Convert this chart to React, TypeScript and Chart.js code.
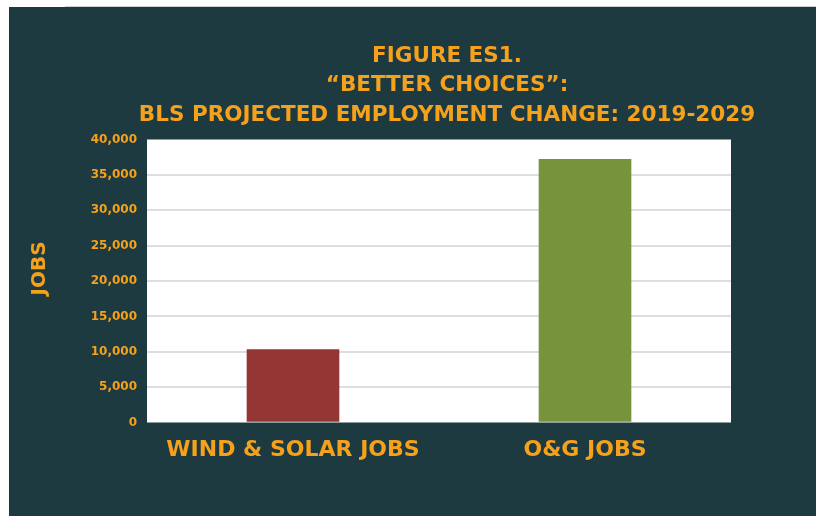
import React, { useEffect, useRef } from "react";
import { Chart, registerables } from "chart.js";

Chart.register(...registerables);

const categories = ["WIND & SOLAR JOBS", "O&G JOBS"];
const jobValues = [10300, 37200];
const barColors = ["#943634", "#77933c"];
const titleLines = ["FIGURE ES1.", "\u201CBETTER CHOICES\u201D:", "BLS PROJECTED EMPLOYMENT CHANGE: 2019-2029"];
const yAxisTitle = "JOBS";
const yMin = 0;
const yMax = 40000;
const yStep = 5000;

const BG = "#1c3a40";
const ORANGE = "#f6a11c";
const FONT = "'DejaVu Sans', sans-serif";

export default function App() {
  const ref = useRef<HTMLCanvasElement | null>(null);

  useEffect(() => {
    if (!ref.current) return;
    const decor = {
      id: "decor",
      beforeDraw(chart: any) {
        const { ctx, width, height, chartArea } = chart;
        ctx.save();
        ctx.fillStyle = BG;
        ctx.fillRect(0, 0, width, height);
        ctx.fillStyle = "#ffffff";
        ctx.fillRect(chartArea.left, chartArea.top, chartArea.right - chartArea.left, chartArea.bottom - chartArea.top);
        ctx.restore();
      },
      afterDraw(chart: any) {
        const { ctx } = chart;
        ctx.save();
        ctx.fillStyle = ORANGE;
        ctx.textAlign = "center";
        ctx.textBaseline = "alphabetic";
        ctx.font = `bold 21.5px ${FONT}`;
        const baselines = [54.5, 84, 113.7];
        titleLines.forEach((t, i) => ctx.fillText(t, 438, baselines[i]));
        ctx.translate(31, 261.5);
        ctx.rotate(-Math.PI / 2);
        ctx.font = `bold 20px ${FONT}`;
        ctx.textBaseline = "middle";
        ctx.fillText(yAxisTitle, 0, 0);
        ctx.restore();
      },
    };

    const chart = new Chart(ref.current, {
      type: "bar",
      data: {
        labels: categories,
        datasets: [
          {
            data: jobValues,
            backgroundColor: barColors,
            borderWidth: 0,
            barThickness: 92,
          },
        ],
      },
      options: {
        animation: false,
        responsive: false,
        devicePixelRatio: 1,
        layout: { padding: { left: 19, right: 85, top: 132.5, bottom: 0 } },
        plugins: { legend: { display: false }, tooltip: { enabled: false }, title: { display: false } },
        scales: {
          x: {
            grid: { display: false, drawTicks: false },
            border: { display: false },
            ticks: {
              color: ORANGE,
              font: { family: FONT, size: 22, weight: "bold" },
              padding: 15,
              maxRotation: 0,
              autoSkip: false,
            },
            afterFit(scale: any) {
              scale.height = 509 - 415.5;
            },
          },
          y: {
            min: yMin,
            max: yMax,
            grid: {
              drawTicks: false,
              lineWidth: 2,
              color: (c: any) =>
                c.tick && (c.tick.value === yMin || c.tick.value === yMax) ? "rgba(0,0,0,0)" : "#dedede",
            },
            border: { display: false },
            ticks: {
              stepSize: yStep,
              color: ORANGE,
              font: { family: FONT, size: 12, weight: "bold" },
              padding: 10,
              callback: (v: any) => Number(v).toLocaleString("en-US"),
            },
            afterFit(scale: any) {
              scale.width = 119;
            },
          },
        },
      },
      plugins: [decor],
    });
    return () => chart.destroy();
  }, []);

  return (
    <div style={{ position: "fixed", left: 0, top: 0, width: 816, height: 516, background: "#ffffff", overflow: "hidden" }}>
      <div style={{ position: "absolute", left: 65, top: 6, width: 751, height: 1, background: "#d0d0d0" }} />
      <canvas ref={ref} width={807} height={509} style={{ position: "absolute", left: 9, top: 7, width: 807, height: 509 }} />
    </div>
  );
}
